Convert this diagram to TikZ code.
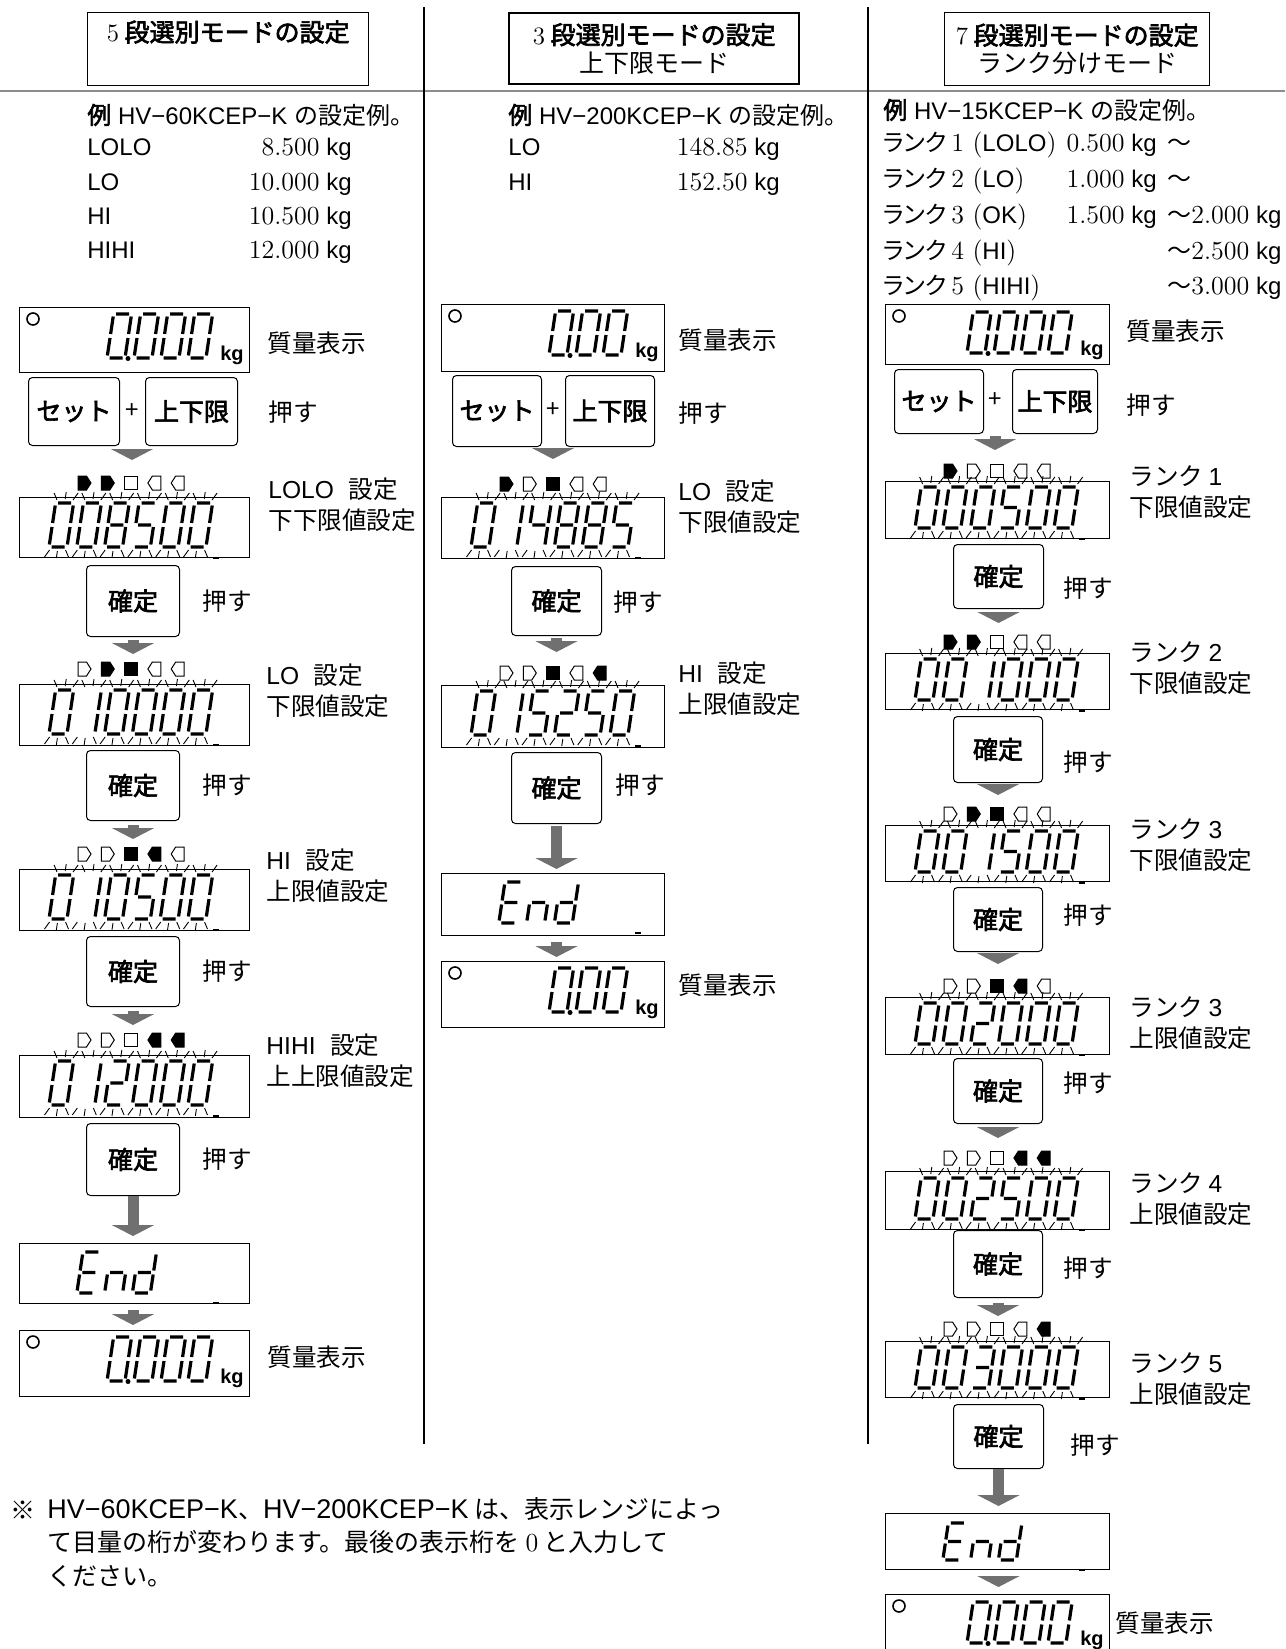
\documentclass[tikz,border=0pt]{standalone}
\usepackage{fontspec}
\newfontfamily\jp{Noto Sans CJK JP}
\newfontfamily\jpmid{Noto Sans CJK JP}[FakeBold=2.6]
\newfontfamily\jpprop{Noto Sans CJK JP}[RawFeature=+palt]
\newfontfamily\sans{Liberation Sans}
\usetikzlibrary{arrows.meta, positioning}

\definecolor{flowgray}{RGB}{112,112,112}
\definecolor{rulegray}{RGB}{140,140,140}

\tikzstyle{lcdbox}    = [draw, line width=0.6pt, inner sep=0pt, anchor=north west]
\tikzstyle{keybox}    = [draw, rounded corners=2pt, line width=0.5pt, inner sep=0pt, anchor=north west, font=\fontsize{12.5}{14}\selectfont\jpmid]
\tikzstyle{headbox}   = [draw, line width=0.7pt, inner sep=0pt, anchor=north west, align=center, font=\fontsize{12.5}{14}\selectfont\jpmid]
\tikzstyle{flowarrow} = [draw=flowgray, line width=5.5pt, -{Triangle[width=21pt,length=5.5pt]}]
\tikzstyle{steplabel} = [inner sep=0pt, anchor=west, align=left, font=\fontsize{12.3}{15.5}\selectfont\jp]
\tikzstyle{plussign}  = [inner sep=0pt, font=\fontsize{12}{14}\selectfont\jp]
\tikzstyle{exline}    = [inner sep=0pt, anchor=base west, font=\fontsize{12}{14}\selectfont\sans]
\tikzstyle{exvalue}   = [inner sep=0pt, anchor=base east, font=\fontsize{12}{14}\selectfont\sans]
\tikzstyle{kglabel}   = [inner sep=0pt, anchor=base east, font=\fontsize{10}{11}\selectfont\sans\bfseries]
\tikzstyle{notetext}  = [inner sep=0pt, align=left, font=\fontsize{12.5}{16.75}\selectfont\jp]
\tikzstyle{segline}   = [line width=1.6pt]
\tikzstyle{rayline}   = [line width=0.45pt]

\newcommand{\serifnum}[1]{{\rmfamily\fontsize{13}{14}\selectfont #1}}

% seven segments, origin at bottom left, y downwards
\newcommand{\digH}{44}
\newcommand{\sgA}{(2.5,-\digH) -- (15.5,-\digH)}
\newcommand{\sgB}{(18,-\digH+2.5) -- (18,-\digH/2-2)}
\newcommand{\sgC}{(18,-\digH/2+2) -- (18,-2.5)}
\newcommand{\sgD}{(2.5,0) -- (15.5,0)}
\newcommand{\sgE}{(0,-\digH/2+2) -- (0,-2.5)}
\newcommand{\sgF}{(0,-\digH+2.5) -- (0,-\digH/2-2)}
\newcommand{\sgG}{(2.5,-\digH/2) -- (15.5,-\digH/2)}
\tikzset{
  glyph 0/.style={insert path={\sgA \sgB \sgC \sgD \sgE \sgF}},
  glyph 1/.style={insert path={\sgB \sgC}},
  glyph 2/.style={insert path={\sgA \sgB \sgG \sgE \sgD}},
  glyph 3/.style={insert path={\sgA \sgB \sgG \sgC \sgD}},
  glyph 4/.style={insert path={\sgF \sgG \sgB \sgC}},
  glyph 5/.style={insert path={\sgA \sgF \sgG \sgC \sgD}},
  glyph 8/.style={insert path={\sgA \sgB \sgC \sgD \sgE \sgF \sgG}},
  glyph E/.style={insert path={\sgA \sgF \sgG \sgE \sgD}},
  glyph n/.style={insert path={\sgE \sgG \sgC}},
  glyph d/.style={insert path={\sgB \sgC \sgD \sgE \sgG}}
}

\newcommand{\lcdglyph}[3]{%
  \begin{scope}[shift={({#1},{#2})}, xslant=0.15]
    \path[draw, segline, glyph #3];
  \end{scope}}

% blinking six digit row: box left, digit bottom, glyphs
\newcommand{\blinkrow}[3]{%
  \foreach \g [count=\i from 0] in {#3}{
    \begin{scope}[shift={({#1+30+27.8*\i},{#2})}, xslant=0.15]
      \edef\glyphpath{\noexpand\path[draw, segline, glyph \g];}\glyphpath
      \draw[rayline] (-3,-\digH-10) -- (1,-\digH-3) (9,-\digH-11) -- (9,-\digH-4) (21,-\digH-10) -- (17,-\digH-3)
                     (1,3) -- (-3,10) (9,4) -- (9,11) (17,3) -- (21,10);
    \end{scope}}
  \draw[line width=1.2pt] ({#1+194},{#2+11}) -- ({#1+200},{#2+11});}

\newcommand{\finrow}[2]{%
  \foreach \g [count=\i from 1] in {E,n,d}{
    \begin{scope}[shift={({#1+30+27.8*\i},{#2})}, xslant=0.15]
      \edef\glyphpath{\noexpand\path[draw, segline, glyph \g];}\glyphpath
    \end{scope}}
  \draw[line width=1.2pt] ({#1+194},{#2+10}) -- ({#1+200},{#2+10});}

% weight display face: left, top, right, digit bottom, digits
\newcommand{\weightface}[5]{%
  \draw[line width=0.8pt] ({#1+14},{#2+12}) circle (6);
  \pgfmathsetmacro{\firstx}{#3-61-27*(#5-1)}
  \foreach \i in {1,...,#5}{\lcdglyph{\firstx+27*(\i-1)}{#4}{0}}
  \fill ({\firstx+21},{#4+0.5}) circle (2.5);}

% lamp row: box left, centre y, five states
\newcommand{\indrow}[3]{%
  \foreach \st [count=\i] in {#3}{
    \pgfmathsetmacro{\cx}{#1+65.5+23.3*(\i-1)}
    \ifnum\st=1 \def\indfill{black}\else\def\indfill{white}\fi
    \ifnum\i<3
      \filldraw[fill=\indfill, line width=0.5pt] (\cx-6.5,#2-7) -- (\cx+2,#2-7) -- (\cx+6.5,#2) -- (\cx+2,#2+7) -- (\cx-6.5,#2+7) -- cycle;
    \else\ifnum\i=3
      \filldraw[fill=\indfill, line width=0.5pt] (\cx-6.5,#2-6.5) rectangle (\cx+6.5,#2+6.5);
    \else
      \filldraw[fill=\indfill, line width=0.5pt] (\cx+6.5,#2-7) -- (\cx-2,#2-7) -- (\cx-6.5,#2) -- (\cx-2,#2+7) -- (\cx+6.5,#2+7) -- cycle;
    \fi\fi}}

\begin{document}
\begin{tikzpicture}[x=0.5pt, y=-0.5pt]
    \useasboundingbox (0,0) rectangle (1285,1649);

    % Rules
    \draw[rulegray, line width=0.6pt] (0,91) -- (1285,91);
    \draw[line width=1.4pt] (424,7) -- (424,1444);
    \draw[line width=1.4pt] (868,7) -- (868,1444);

    % Headers
    \node[headbox, minimum width=140.5pt, minimum height=36.5pt] (head5) at (87,12)
        {{\rmfamily 5} 段選別モードの設定\\\strut};
    \node[headbox, line width=1.2pt, minimum width=145pt, minimum height=35.5pt] (head3) at (508,12)
        {{\rmfamily 3} 段選別モードの設定\\{\jp 上下限モード}};
    \node[headbox, minimum width=132.5pt, minimum height=36.5pt] (head7) at (944,12)
        {{\rmfamily 7} 段選別モードの設定\\{\jp ランク分けモード}};

    % Examples
    \node[exline] (ex5) at (87,124) {{\jpmid 例} HV−60KCEP−K {\jp の設定例。}};
    \node[exline] (ex5a) at (87,155.5) {LOLO};
    \node[exvalue] (ex5av) at (352,155.5) {\serifnum{8.500} kg};
    \node[exline] (ex5b) at (87,190) {LO};
    \node[exvalue] (ex5bv) at (352,190) {\serifnum{10.000} kg};
    \node[exline] (ex5c) at (87,224) {HI};
    \node[exvalue] (ex5cv) at (352,224) {\serifnum{10.500} kg};
    \node[exline] (ex5d) at (87,258.5) {HIHI};
    \node[exvalue] (ex5dv) at (352,258.5) {\serifnum{12.000} kg};

    \node[exline] (ex3) at (508,124) {{\jpmid 例} HV−200KCEP−K {\jp の設定例。}};
    \node[exline] (ex3a) at (508,155.5) {LO};
    \node[exvalue] (ex3av) at (780,155.5) {\serifnum{148.85} kg};
    \node[exline] (ex3b) at (508,190) {HI};
    \node[exvalue] (ex3bv) at (780,190) {\serifnum{152.50} kg};

    \node[exline] (ex7) at (883,119) {{\jpmid 例} HV−15KCEP−K {\jp の設定例。}};
    \node[exline] (ex7a) at (883,151.5) {{\jpprop ランク}\serifnum{\,1 (}LOLO\serifnum{)}};
    \node[exvalue] (ex7av) at (1157,151.5) {\serifnum{0.500} kg};
    \node[exline] (ex7at) at (1167,151.5) {{\jp ～}};
    \node[exline] (ex7b) at (883,187.5) {{\jpprop ランク}\serifnum{\,2 (}LO\serifnum{)}};
    \node[exvalue] (ex7bv) at (1157,187.5) {\serifnum{1.000} kg};
    \node[exline] (ex7bt) at (1167,187.5) {{\jp ～}};
    \node[exline] (ex7c) at (883,223.5) {{\jpprop ランク}\serifnum{\,3 (}OK\serifnum{)}};
    \node[exvalue] (ex7cv) at (1157,223.5) {\serifnum{1.500} kg};
    \node[exline] (ex7ct) at (1167,223.5) {{\jp ～}\serifnum{2.000} kg};
    \node[exline] (ex7d) at (883,259) {{\jpprop ランク}\serifnum{\,4 (}HI\serifnum{)}};
    \node[exline] (ex7dt) at (1167,259) {{\jp ～}\serifnum{2.500} kg};
    \node[exline] (ex7e) at (883,294.5) {{\jpprop ランク}\serifnum{\,5 (}HIHI\serifnum{)}};
    \node[exline] (ex7et) at (1167,294.5) {{\jp ～}\serifnum{3.000} kg};

    % Left column: 5 steps
    \node[lcdbox, minimum width=115pt, minimum height=32.5pt] (w1) at (19,307) {};
    \weightface{19}{307}{249}{358}{4}
    \node[kglabel] (w1kg) at (244,360) {kg};
    \node[steplabel] (w1lab) at (267,343) {質量表示};

    \node[keybox, minimum width=45.5pt, minimum height=34pt] (set1) at (28,377) {セット};
    \node[plussign] (plus1) at (132,411) {+};
    \node[keybox, minimum width=46pt, minimum height=34pt] (lim1) at (145,377) {上下限};
    \node[steplabel] (push1) at (268,412) {押す};

    \indrow{19}{483}{1,1,0,0,0}
    \node[lcdbox, minimum width=115pt, minimum height=30pt] (d1) at (19,497) {};
    \blinkrow{19}{547}{0,0,8,5,0,0}
    \node[steplabel] (lab1) at (268,505) {{\sans LOLO}\hspace{0.6em}設定\\下下限値設定};
    \node[keybox, minimum width=46.5pt, minimum height=35.5pt] (ok1) at (86,565) {確定};
    \node[steplabel] (push2) at (202,601) {押す};

    \indrow{19}{669}{0,1,1,0,0}
    \node[lcdbox, minimum width=115pt, minimum height=30.5pt] (d2) at (19,684) {};
    \blinkrow{19}{734}{0,1,0,0,0,0}
    \node[steplabel] (lab2) at (266,691) {{\sans LO}\hspace{0.6em}設定\\下限値設定};
    \node[keybox, minimum width=46.5pt, minimum height=35pt] (ok2) at (86,750) {確定};
    \node[steplabel] (push3) at (202,785) {押す};

    \indrow{19}{854}{0,0,1,1,0}
    \node[lcdbox, minimum width=115pt, minimum height=30.5pt] (d3) at (19,869) {};
    \blinkrow{19}{919}{0,1,0,5,0,0}
    \node[steplabel] (lab3) at (266,875.5) {{\sans HI}\hspace{0.6em}設定\\上限値設定};
    \node[keybox, minimum width=46.5pt, minimum height=35pt] (ok3) at (86,936) {確定};
    \node[steplabel] (push4) at (202,971) {押す};

    \indrow{19}{1040}{0,0,0,1,1}
    \node[lcdbox, minimum width=115pt, minimum height=31pt] (d4) at (19,1055) {};
    \blinkrow{19}{1105}{0,1,2,0,0,0}
    \node[steplabel] (lab4) at (266,1061) {{\sans HIHI}\hspace{0.6em}設定\\上上限値設定};
    \node[keybox, minimum width=46.5pt, minimum height=36pt] (ok4) at (86,1123) {確定};
    \node[steplabel] (push5) at (202,1159) {押す};

    \node[lcdbox, minimum width=115pt, minimum height=30pt] (e1) at (19,1243) {};
    \begin{scope}
        \renewcommand{\digH}{41}
        \finrow{19}{1293}
    \end{scope}

    \node[lcdbox, minimum width=115pt, minimum height=33pt] (w2) at (19,1330) {};
    \weightface{19}{1330}{249}{1381}{4}
    \node[kglabel] (w2kg) at (244,1383) {kg};
    \node[steplabel] (w2lab) at (267,1357) {質量表示};

    \draw[flowarrow, shorten <=2pt, shorten >=18.5pt] (set1.south -| plus1) -- (plus1 |- d1.north);
    \draw[flowarrow, shorten <=1.5pt, shorten >=15pt] (ok1.south) -- (ok1.south |- d2.north);
    \draw[flowarrow, shorten <=2pt, shorten >=15pt] (ok2.south) -- (ok2.south |- d3.north);
    \draw[flowarrow, shorten <=2pt, shorten >=15pt] (ok3.south) -- (ok3.south |- d4.north);
    \draw[flowarrow, shorten >=3.5pt] (ok4.south) -- (ok4.south |- e1.north);
    \draw[flowarrow, shorten <=3pt, shorten >=2.5pt] (ok4.south |- e1.south) -- (ok4.south |- w2.north);

    % Middle column: 3 steps
    \node[lcdbox, minimum width=111.5pt, minimum height=33.5pt] (w3) at (441,304) {};
    \weightface{441}{304}{664}{355}{3}
    \node[kglabel] (w3kg) at (659,357) {kg};
    \node[steplabel] (w3lab) at (678,340) {質量表示};

    \node[keybox, minimum width=44.5pt, minimum height=35.5pt] (set2) at (452,375) {セット};
    \node[plussign] (plus2) at (553,410) {+};
    \node[keybox, minimum width=44.5pt, minimum height=35.5pt] (lim2) at (565,375) {上下限};
    \node[steplabel] (push6) at (678,413) {押す};

    \indrow{441}{484}{1,0,1,0,0}
    \node[lcdbox, minimum width=111.5pt, minimum height=30.5pt] (d5) at (441,497) {};
    \blinkrow{441}{547}{0,1,4,8,8,5}
    \node[steplabel] (lab5) at (678,506.5) {{\sans LO}\hspace{0.6em}設定\\下限値設定};
    \node[keybox, minimum width=45pt, minimum height=34.5pt] (ok5) at (511,566) {確定};
    \node[steplabel] (push7) at (613,602) {押す};

    \indrow{441}{673}{0,0,1,0,1}
    \node[lcdbox, minimum width=111.5pt, minimum height=31pt] (d6) at (441,685) {};
    \blinkrow{441}{735}{0,1,5,2,5,0}
    \node[steplabel] (lab6) at (678,689) {{\sans HI}\hspace{0.6em}設定\\上限値設定};
    \node[keybox, minimum width=45pt, minimum height=35.5pt] (ok6) at (511,752) {確定};
    \node[steplabel] (push8) at (615,785) {押す};

    \node[lcdbox, minimum width=111.5pt, minimum height=31pt] (e2) at (441,873) {};
    \begin{scope}
        \renewcommand{\digH}{41}
        \finrow{441}{923}
    \end{scope}

    \node[lcdbox, minimum width=111.5pt, minimum height=33pt] (w4) at (441,961) {};
    \weightface{441}{961}{664}{1012}{3}
    \node[kglabel] (w4kg) at (659,1014) {kg};
    \node[steplabel] (w4lab) at (678,985) {質量表示};

    \draw[flowarrow, shorten <=1pt, shorten >=19pt] (set2.south -| plus2) -- (plus2 |- d5.north);
    \draw[flowarrow, shorten <=1pt, shorten >=16.5pt] (ok5.south) -- (ok5.south |- d6.north);
    \draw[flowarrow, shorten <=1pt, shorten >=2pt] (ok6.south) -- (ok6.south |- e2.north);
    \draw[flowarrow, shorten <=3pt, shorten >=2pt] (ok6.south |- e2.south) -- (ok6.south |- w4.north);

    % Right column: 7 steps
    \begin{scope}
    \renewcommand{\digH}{41}
    \node[lcdbox, minimum width=112pt, minimum height=30pt] (w5) at (885,304) {};
    \weightface{885}{304}{1109}{353}{4}
    \node[kglabel] (w5kg) at (1104,355) {kg};
    \node[steplabel] (w5lab) at (1126,331) {質量表示};

    \node[keybox, minimum width=44.5pt, minimum height=32pt] (set3) at (894,369) {セット};
    \node[plussign] (plus3) at (995,400) {+};
    \node[keybox, minimum width=42.5pt, minimum height=32pt] (lim3) at (1012,369) {上下限};
    \node[steplabel] (push9) at (1126,405) {押す};

    \indrow{885}{471}{1,0,0,0,0}
    \node[lcdbox, minimum width=112pt, minimum height=28.5pt] (d7) at (885,481) {};
    \blinkrow{885}{528}{0,0,0,5,0,0}
    \node[steplabel] (lab7) at (1129,492) {ランク {\sans 1}\\下限値設定};
    \node[keybox, minimum width=45pt, minimum height=32pt] (ok7) at (953,544) {確定};
    \node[steplabel] (push10) at (1063,588) {押す};

    \indrow{885}{642}{1,1,0,0,0}
    \node[lcdbox, minimum width=112pt, minimum height=28pt] (d8) at (885,653) {};
    \blinkrow{885}{700}{0,0,1,0,0,0}
    \node[steplabel] (lab8) at (1129,668) {ランク {\sans 2}\\下限値設定};
    \node[keybox, minimum width=44.5pt, minimum height=33pt] (ok8) at (953,716) {確定};
    \node[steplabel] (push11) at (1063,762) {押す};

    \indrow{885}{814}{0,1,1,0,0}
    \node[lcdbox, minimum width=112pt, minimum height=28pt] (d9) at (885,825) {};
    \blinkrow{885}{872}{0,0,1,5,0,0}
    \node[steplabel] (lab9) at (1129,845.5) {ランク {\sans 3}\\下限値設定};
    \node[keybox, minimum width=44.5pt, minimum height=32pt] (ok9) at (953,887) {確定};
    \node[steplabel] (push12) at (1063,915) {押す};

    \indrow{885}{986}{0,0,1,1,0}
    \node[lcdbox, minimum width=112pt, minimum height=28.5pt] (d10) at (885,997) {};
    \blinkrow{885}{1044}{0,0,2,0,0,0}
    \node[steplabel] (lab10) at (1129,1023.5) {ランク {\sans 3}\\上限値設定};
    \node[keybox, minimum width=44.5pt, minimum height=32.5pt] (ok10) at (953,1058) {確定};
    \node[steplabel] (push13) at (1063,1083) {押す};

    \indrow{885}{1158}{0,0,0,1,1}
    \node[lcdbox, minimum width=112pt, minimum height=29pt] (d11) at (885,1171) {};
    \blinkrow{885}{1219}{0,0,2,5,0,0}
    \node[steplabel] (lab11) at (1129,1199.5) {ランク {\sans 4}\\上限値設定};
    \node[keybox, minimum width=44.5pt, minimum height=33.5pt] (ok11) at (953,1230) {確定};
    \node[steplabel] (push14) at (1063,1268) {押す};

    \indrow{885}{1329}{0,0,0,0,1}
    \node[lcdbox, minimum width=112pt, minimum height=28pt] (d12) at (885,1341) {};
    \blinkrow{885}{1388}{0,0,3,0,0,0}
    \node[steplabel] (lab12) at (1129,1379) {ランク {\sans 5}\\上限値設定};
    \node[keybox, minimum width=45pt, minimum height=32pt] (ok12) at (953,1404) {確定};
    \node[steplabel] (push15) at (1070,1445) {押す};

    \node[lcdbox, minimum width=112pt, minimum height=28pt] (e3) at (885,1513) {};
    \renewcommand{\digH}{37}
    \finrow{885}{1560}
    \renewcommand{\digH}{41}

    \node[lcdbox, minimum width=112pt, minimum height=30pt] (w6) at (885,1594) {};
    \weightface{885}{1594}{1109}{1643}{4}
    \node[kglabel] (w6kg) at (1104,1645) {kg};
    \node[steplabel] (w6lab) at (1115,1623) {質量表示};
    \end{scope}

    \draw[flowarrow, shorten <=1pt, shorten >=15.5pt] (set3.south -| plus3) -- (plus3 |- d7.north);
    \draw[flowarrow, shorten <=2pt, shorten >=15pt] (ok7.south) -- (ok7.south |- d8.north);
    \draw[flowarrow, shorten <=1pt, shorten >=15pt] (ok8.south) -- (ok8.south |- d9.north);
    \draw[flowarrow, shorten <=1pt, shorten >=16.5pt] (ok9.south) -- (ok9.south |- d10.north);
    \draw[flowarrow, shorten <=2pt, shorten >=16.5pt] (ok10.south) -- (ok10.south |- d11.north);
    \draw[flowarrow, shorten <=2.5pt, shorten >=12.5pt] (ok11.south) -- (ok11.south |- d12.north);
    \draw[flowarrow, shorten >=3.5pt] (ok12.south) -- (ok12.south |- e3.north);
    \draw[flowarrow, shorten <=3pt, shorten >=3.5pt] (ok12.south |- e3.south) -- (ok12.south |- w6.north);

    % Note
    \node[notetext, anchor=west] (notemark) at (10,1510) {※};
    \node[notetext, anchor=north west] (note) at (47,1497)
        {{\sans\fontsize{13.5}{16.75}\selectfont HV−60KCEP−K}、{\sans\fontsize{13.5}{16.75}\selectfont HV−200KCEP−K} は、表示レンジによっ\\
         て目量の桁が変わります。最後の表示桁を \serifnum{0} と入力して\\
         ください。};

\end{tikzpicture}
\end{document}
